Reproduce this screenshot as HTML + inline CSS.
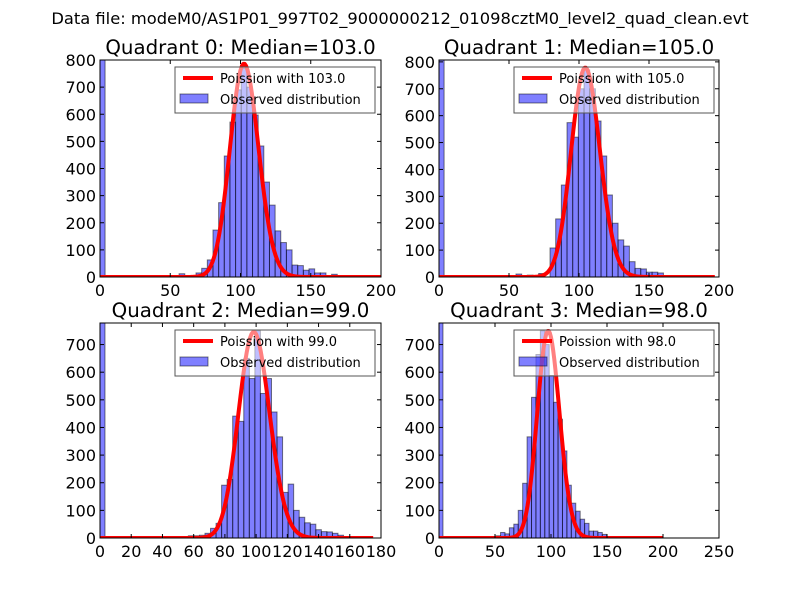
<!DOCTYPE html>
<html><head><meta charset="utf-8"><style>
body{margin:0;background:#fff;}
svg{display:block;font-family:"DejaVu Sans","Liberation Sans",sans-serif;}
</style></head><body>
<svg id="fig" width="800" height="600" viewBox="0 0 800 600">
<rect width="800" height="600" fill="#fff"/>
<text x="400" y="24" font-size="16.3" text-anchor="middle">Data file: modeM0/AS1P01_997T02_9000000212_01098cztM0_level2_quad_clean.evt</text>
</svg>
<script>
// ---- data ----
const quadNames = ["Quadrant 0: Median=103.0","Quadrant 1: Median=105.0","Quadrant 2: Median=99.0","Quadrant 3: Median=98.0"];
const medians = [103.0, 105.0, 99.0, 98.0];
const poissonScale = [20000, 20000, 18600, 18600];
const curveEnd = [200, 197, 175, 200];
const zeroBinCounts = [1000, 1000, 1000, 1000];
const binStart = [56.3, 55.0, 56.6, 51.0];
const binWidth = [4.02, 4.05, 3.55, 3.95];
const counts0 = [12,3,3,15,32,63,173,274,446,571,690,770,700,597,483,350,265,170,127,100,44,42,25,30,15,15,3,10];
const counts1 = [11,0,7,0,13,0,108,216,342,574,520,700,770,700,580,450,305,200,138,115,57,32,30,18,18,15];
const counts2 = [8,8,10,17,35,53,191,212,441,422,650,577,750,523,577,456,366,165,195,100,75,55,50,30,23,22,17,10,5];
const counts3 = [8,20,15,37,50,100,198,366,509,664,750,700,588,491,430,315,191,126,97,68,53,25,25,20,13];
const xMax = [200, 200, 180, 250];
const yMax = [800, 807, 778, 778];
const xTicks = [[0,50,100,150,200],[0,50,100,150,200],[0,20,40,60,80,100,120,140,160,180],[0,50,100,150,200,250]];
const yTicks = [[0,100,200,300,400,500,600,700,800],[0,100,200,300,400,500,600,700,800],[0,100,200,300,400,500,600,700],[0,100,200,300,400,500,600,700]];
const allCounts = [counts0, counts1, counts2, counts3];
// ---- layout ----
const boxes = [{l:100,r:381,t:60,b:277},{l:439,r:719,t:60,b:277},{l:100,r:381,t:323,b:538},{l:439,r:719,t:323,b:538}];
const NS = "http://www.w3.org/2000/svg";
const fig = document.getElementById('fig');
function mk(tag, attrs, parent){const e=document.createElementNS(NS,tag);for(const k in attrs)e.setAttribute(k,attrs[k]);(parent||fig).appendChild(e);return e;}
function lnFact(k){ if(k<2) return 0; const n=k+1; return (n-0.5)*Math.log(n)-n+0.5*Math.log(2*Math.PI)+1/(12*n)-1/(360*n*n*n); }
function pmf(k, lam){ return Math.exp(k*Math.log(lam)-lam-lnFact(k)); }
for(let q=0;q<4;q++){
  const B=boxes[q];
  const g=mk('g',{});
  
  
  const sx=v=>B.l+(v/xMax[q])*(B.r-B.l);
  const sy=v=>B.b-(v/yMax[q])*(B.b-B.t);
  const clipId='clip'+q;
  const cp=mk('clipPath',{id:clipId},g); mk('rect',{x:B.l,y:B.t,width:B.r-B.l,height:B.b-B.t},cp);
  const title=mk('text',{x:(B.l+B.r)/2,y:B.t-6,'font-size':19.8,'text-anchor':'middle'},g);
  title.textContent=quadNames[q];
  
  
  const plot=mk('g',{'clip-path':'url(#'+clipId+')'},g);
  const z=mk('rect',{x:sx(0),y:sy(zeroBinCounts[q]),width:sx(binWidth[q]*0.9)-sx(0),height:sy(0)-sy(zeroBinCounts[q]),fill:'rgba(0,0,255,0.5)',stroke:'rgba(0,0,0,0.5)','stroke-width':1},plot);
  
  
  const cs=allCounts[q];
  for(let i=0;i<cs.length;i++){
    if(cs[i]<=0) continue;
    const x0=binStart[q]+i*binWidth[q];
    const r=mk('rect',{x:sx(x0),y:sy(cs[i]),width:sx(x0+binWidth[q])-sx(x0),height:sy(0)-sy(cs[i]),fill:'rgba(0,0,255,0.5)',stroke:'rgba(0,0,0,0.5)','stroke-width':1},plot);
    
    
  }
  let d='';
  for(let k=0;k<=curveEnd[q];k++){ d+=(k?'L':'M')+sx(k).toFixed(2)+','+sy(poissonScale[q]*pmf(k,medians[q])).toFixed(2); }
  const c=mk('path',{d:d,fill:'none',stroke:'#f00','stroke-width':4,'stroke-linejoin':'round'},plot);
  
  
  const fr=mk('rect',{x:B.l,y:B.t,width:B.r-B.l,height:B.b-B.t,fill:'none',stroke:'#000','stroke-width':1},g);
  
  
  xTicks[q].forEach(v=>{
    const x=sx(v);
    mk('line',{x1:x,x2:x,y1:B.b,y2:B.b-4,stroke:'#000'},g);
    mk('line',{x1:x,x2:x,y1:B.t,y2:B.t+4,stroke:'#000'},g);
    const t=mk('text',{x:x,y:B.b+19,'font-size':16,'text-anchor':'middle'},g);
    t.textContent=v;
    
    
  });
  yTicks[q].forEach(v=>{
    const y=sy(v);
    mk('line',{x1:B.l,x2:B.l+4,y1:y,y2:y,stroke:'#000'},g);
    mk('line',{x1:B.r,x2:B.r-4,y1:y,y2:y,stroke:'#000'},g);
    const t=mk('text',{x:B.l-4,y:y+6,'font-size':16,'text-anchor':'end'},g);
    t.textContent=v;
    
    
  });
  const lx=B.l+75, ly=B.t+7;
  const lg=mk('g',{},g);
  
  
  mk('rect',{x:lx,y:ly,width:200,height:46,fill:'rgba(255,255,255,0.5)',stroke:'#555','stroke-width':1},lg);
  mk('line',{x1:lx+8,x2:lx+38,y1:ly+11,y2:ly+11,stroke:'#f00','stroke-width':4},lg);
  const t1=mk('text',{x:lx+45,y:ly+16,'font-size':13},lg); t1.textContent='Poission with '+medians[q].toFixed(1);
  
  
  mk('rect',{x:lx+5,y:ly+27,width:28,height:9,fill:'rgba(0,0,255,0.5)',stroke:'rgba(0,0,0,0.5)'},lg);
  const t2=mk('text',{x:lx+45,y:ly+37,'font-size':13},lg); t2.textContent='Observed distribution';
  
  
}
</script>
</body></html>
